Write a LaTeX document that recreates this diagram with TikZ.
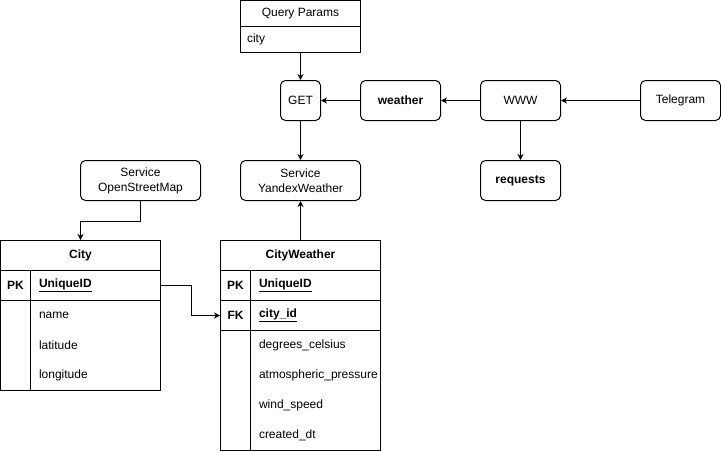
\documentclass[tikz,border=0pt]{standalone}
\usepackage{fontspec}
\setmainfont{Liberation Sans}
\usetikzlibrary{arrows.meta}

\begin{document}
\begin{tikzpicture}[x=1pt,y=-1pt,line width=1pt,
    every node/.style={font=\fontsize{12}{15}\selectfont},
    box/.style={draw,rounded corners=5pt,minimum width=80pt,minimum height=40pt,inner sep=0pt,align=center},
    cell/.style={draw,minimum height=30pt,inner sep=0pt},
    attr/.style={anchor=west,inner sep=0pt},
    flow/.style={-{Stealth[length=6pt,width=6pt]}}]
      \useasboundingbox (-0.5,-0.5) rectangle (720.5,450.5);
      \node[cell,minimum width=120pt,minimum height=26pt] (qhead) at (300,13) {Query Params};
      \node[cell,minimum width=120pt,minimum height=26pt] (qrow) at (300,39) {};
      \node[attr] (qcity) at (246,39) {city};
      \node[box,minimum width=40pt] (get) at (300,100) {GET};
      \node[box] (weather) at (400,100) {\textbf{weather}};
      \node[box] (www) at (520,100) {WWW};
      \node[box] (telegram) at (680,100) {Telegram};
      \node[box] (requests) at (520,180) {\textbf{requests}};
      \node[box,minimum width=120pt] (yandex) at (300,180) {Service\\YandexWeather};
      \node[box,minimum width=120pt] (osm) at (140,180) {Service\\OpenStreetMap};
      \node[cell,minimum width=160pt] (cityhead) at (80,255) {\textbf{City}};
      \node[cell,minimum width=30pt] (citypk) at (15,285) {\textbf{PK}};
      \node[cell,minimum width=130pt] (cityid) at (95,285) {};
      \node[attr] (cityidtxt) at (38,285) {\textbf{\underline{UniqueID}}};
      \node[cell,minimum width=30pt,minimum height=90pt] (citykeys) at (15,345) {};
      \node[cell,minimum width=130pt,minimum height=90pt] (cityattrs) at (95,345) {};
      \node[attr] (cityname) at (38,315) {name};
      \node[attr] (citylat) at (38,345) {latitude};
      \node[attr] (citylon) at (38,375) {longitude};
      \node[cell,minimum width=160pt] (cwhead) at (300,255) {\textbf{CityWeather}};
      \node[cell,minimum width=30pt] (cwpk) at (235,285) {\textbf{PK}};
      \node[cell,minimum width=130pt] (cwid) at (315,285) {};
      \node[attr] (cwidtxt) at (258,285) {\textbf{\underline{UniqueID}}};
      \node[cell,minimum width=30pt] (cwfk) at (235,315) {\textbf{FK}};
      \node[cell,minimum width=130pt] (cwcity) at (315,315) {};
      \node[attr] (cwcitytxt) at (258,315) {\textbf{\underline{city\_id}}};
      \node[cell,minimum width=30pt,minimum height=120pt] (cwkeys) at (235,390) {};
      \node[cell,minimum width=130pt,minimum height=120pt] (cwattrs) at (315,390) {};
      \node[attr] (cwdeg) at (258,345) {degrees\_celsius};
      \node[attr] (cwpres) at (258,375) {atmospheric\_pressure};
      \node[attr] (cwwind) at (258,405) {wind\_speed};
      \node[attr] (cwdt) at (258,435) {created\_dt};
      \draw[flow] (qrow) -- (get);
      \draw[flow] (weather) -- (get);
      \draw[flow] (www) -- (weather);
      \draw[flow] (telegram) -- (www);
      \draw[flow] (www) -- (requests);
      \draw[flow] (get) -- (yandex);
      \draw[flow] (cwhead) -- (yandex);
      \draw[flow] (osm.south) -- ++(0,20) -| (cityhead.north);
      \draw[flow] (cityid.east) -- ++(30,0) |- (cwfk.west);
    \end{tikzpicture}
\end{document}
